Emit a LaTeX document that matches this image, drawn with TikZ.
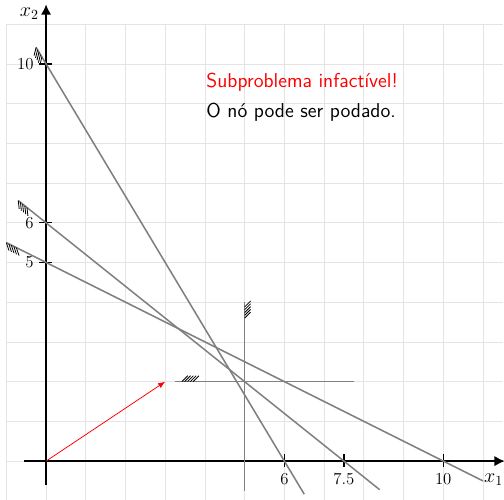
\documentclass[tikz,border=0pt]{standalone}
\usepackage{xcolor}
\usepackage{tikz}
\usetikzlibrary{arrows.meta,positioning,calc,decorations.pathreplacing}
\definecolor{constrgray}{HTML}{808080}
\definecolor{gridgray}{HTML}{E4E4E4}
\tikzset{
  lpgrid/.style={draw=gridgray,line width=0.6pt},
  lpaxis/.style={-{Latex[length=2.6mm,width=2.6mm]},line width=1.2pt,draw=black},
  lptick/.style={line width=1pt,draw=black},
  lpconstr/.style={line width=1.1pt,draw=constrgray},
  lphatch/.style={decorate,decoration={border,segment length=2pt,amplitude=6pt,angle=-45},line width=0.6pt,draw=black},
  lpbranch/.style={-{Latex[length=1.8mm,width=1.4mm]},line width=0.55pt,draw=red},
  lpnote/.style={font=\sffamily\Large,inner sep=0pt,anchor=west}
}
\begin{document}
\begin{tikzpicture}
  \useasboundingbox (-1.16,-0.96) rectangle (11.53,11.61);
  \draw[lpgrid] (-1,-1) grid (11.5,11);
  \coordinate (origin) at (0,0);
  \coordinate (c1a) at (-0.25,10.4167);
  \coordinate (c1b) at (6.5,-0.8333);
  \coordinate (c2a) at (-0.7,6.56);
  \coordinate (c2b) at (8.4,-0.72);
  \coordinate (c3a) at (-1,5.5);
  \coordinate (c3b) at (11,-0.5);
  \coordinate (va) at (5,4);
  \coordinate (vb) at (5,-0.75);
  \coordinate (ha) at (3.25,2);
  \coordinate (hb) at (7.75,2);
  \coordinate (xstart) at (-0.55,0);
  \coordinate (xend) at (11.55,0);
  \coordinate (ystart) at (0,-0.6);
  \coordinate (yend) at (0,11.5);
  \draw[lpaxis] (xstart) -- (xend);
  \draw[lpaxis] (ystart) -- (yend);
  \node[font=\Large] (xlabel) at (11.27,-0.47) {$x_1$};
  \node[font=\Large] (ylabel) at (-0.42,11.26) {$x_2$};
  \foreach \yv/\ylab in {10/10,6/6,5/5}{
    \draw[lptick] (-0.17,\yv) -- (0.15,\yv);
    \node[left=0.2mm,font=\large] (ytick\yv) at (-0.17,\yv) {\ylab};
  }
  \foreach \xv/\xlab in {6/6,7.5/7.5,10/10}{
    \draw[lptick] (\xv,-0.15) -- (\xv,0.17);
    \node[below=0.3mm,font=\large] (xtick\xlab) at (\xv,-0.15) {\xlab};
  }
  \draw[lpconstr] (c1a) -- (c1b);
  \draw[lpconstr] (c2a) -- (c2b);
  \draw[lpconstr] (c3a) -- (c3b);
  \draw[lpconstr] (va) -- (vb);
  \draw[lpconstr] (ha) -- (hb);
  \draw[lphatch] (c1a) -- ($(c1a)!0.4cm!(c1b)$);
  \draw[lphatch] (c2a) -- ($(c2a)!0.4cm!(c2b)$);
  \draw[lphatch] (c3a) -- ($(c3a)!0.4cm!(c3b)$);
  \draw[lphatch] ($(va)!0.4cm!(vb)$) -- (va);
  \draw[lphatch,decoration={angle=-135}] ($(ha)!0.45cm!(hb)$) -- ($(ha)!0.05cm!(hb)$);
  \draw[lpbranch] (origin) -- (3,2);
  \node[lpnote,text=red] (infeasible) at (4.03,9.55) {Subproblema infactível!};
  \node[lpnote] (pruned) at ($(infeasible.west)+(0,-0.76)$) {O nó pode ser podado.};
\end{tikzpicture}
\end{document}
